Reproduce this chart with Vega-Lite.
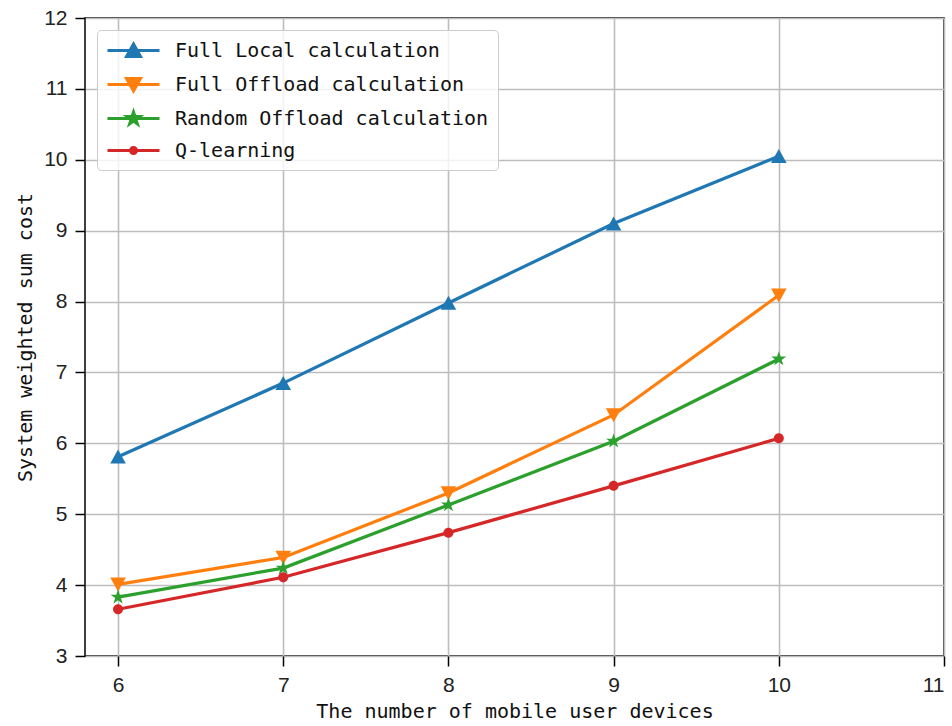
{
  "$schema": "https://vega.github.io/schema/vega-lite/v6.json",
  "autosize": "none",
  "width": 859,
  "height": 638,
  "padding": {"left": 85, "top": 18, "right": 8, "bottom": 70},
  "background": "white",
  "config": {
    "view": {"stroke": "black", "strokeWidth": 1.5},
    "axis": {
      "grid": true,
      "gridColor": "#bdbdbd",
      "gridWidth": 1.6,
      "domain": false,
      "tickColor": "black",
      "tickWidth": 1.5,
      "tickSize": 10,
      "labelFont": "Liberation Sans",
      "labelFontSize": 21,
      "labelColor": "#222222",
      "labelPadding": 8,
      "titleFont": "DejaVu Sans Mono",
      "titleFontSize": 20,
      "titleFontWeight": "normal",
      "titleColor": "#111111"
    }
  },
  "data": {
    "values": [
      {"n": 6, "cost": 5.81, "series": "Full Local calculation"},
      {"n": 7, "cost": 6.85, "series": "Full Local calculation"},
      {"n": 8, "cost": 7.98, "series": "Full Local calculation"},
      {"n": 9, "cost": 9.10, "series": "Full Local calculation"},
      {"n": 10, "cost": 10.05, "series": "Full Local calculation"},
      {"n": 6, "cost": 4.01, "series": "Full Offload calculation"},
      {"n": 7, "cost": 4.39, "series": "Full Offload calculation"},
      {"n": 8, "cost": 5.30, "series": "Full Offload calculation"},
      {"n": 9, "cost": 6.40, "series": "Full Offload calculation"},
      {"n": 10, "cost": 8.09, "series": "Full Offload calculation"},
      {"n": 6, "cost": 3.83, "series": "Random Offload calculation"},
      {"n": 7, "cost": 4.24, "series": "Random Offload calculation"},
      {"n": 8, "cost": 5.13, "series": "Random Offload calculation"},
      {"n": 9, "cost": 6.03, "series": "Random Offload calculation"},
      {"n": 10, "cost": 7.19, "series": "Random Offload calculation"},
      {"n": 6, "cost": 3.66, "series": "Q-learning"},
      {"n": 7, "cost": 4.11, "series": "Q-learning"},
      {"n": 8, "cost": 4.74, "series": "Q-learning"},
      {"n": 9, "cost": 5.40, "series": "Q-learning"},
      {"n": 10, "cost": 6.07, "series": "Q-learning"}
    ]
  },
  "encoding": {
    "x": {
      "field": "n", "type": "quantitative",
      "scale": {"domain": [5.8, 11], "nice": false, "zero": false},
      "axis": {"values": [6, 7, 8, 9, 10, 11], "format": "d", "title": "The number of mobile user devices", "titlePadding": 6}
    },
    "y": {
      "field": "cost", "type": "quantitative",
      "scale": {"domain": [3, 12], "nice": false, "zero": false},
      "axis": {"values": [3, 4, 5, 6, 7, 8, 9, 10, 11, 12], "title": "System weighted sum cost", "titlePadding": 8}
    },
    "color": {
      "field": "series", "type": "nominal",
      "scale": {
        "domain": ["Full Local calculation", "Full Offload calculation", "Random Offload calculation", "Q-learning"],
        "range": ["#1f77b4", "#ff7f0e", "#2ca02c", "#d62728"]
      },
      "legend": {
        "title": null,
        "orient": "none",
        "legendX": 12,
        "legendY": 12,
        "padding": 9,
        "strokeColor": "#cccccc",
        "fillColor": "rgba(255,255,255,0.8)",
        "cornerRadius": 4,
        "labelFont": "DejaVu Sans Mono",
        "labelFontSize": 20,
        "labelColor": "#111111",
        "labelLimit": 0,
        "labelOffset": 30,
        "symbolOffset": 16,
        "symbolSize": 400,
        "rowPadding": 9,
        "symbolStrokeWidth": 3,
        "encode": {
          "symbols": {
            "update": {
              "shape": {"signal": "datum.value == 'Full Local calculation' ? 'M-2.6,0H2.6M0,-0.65L0.7,0.6L-0.7,0.6Z' : datum.value == 'Full Offload calculation' ? 'M-2.6,0H2.6M0,0.65L0.7,-0.6L-0.7,-0.6Z' : datum.value == 'Random Offload calculation' ? 'M-2.6,0H2.6M0,-0.65L0.146,-0.2L0.618,-0.2L0.236,0.077L0.382,0.526L0,0.248L-0.382,0.526L-0.236,0.077L-0.618,-0.2L-0.146,-0.2Z' : 'M-2.6,0H2.6M0.3,0A0.3,0.3,0,1,1,-0.3,0A0.3,0.3,0,1,1,0.3,0Z'"},
              "fill": {"scale": "color", "field": "value"},
              "stroke": {"scale": "color", "field": "value"},
              "strokeWidth": {"value": 3},
              "opacity": {"value": 1},
              "fillOpacity": {"value": 1},
              "strokeOpacity": {"value": 1}
            }
          }
        }
      }
    }
  },
  "layer": [
    {
      "mark": {"type": "line", "strokeWidth": 3.2}
    },
    {
      "transform": [{"filter": "datum.series == 'Full Local calculation'"}],
      "mark": {"type": "point", "filled": true, "opacity": 1, "size": 400, "strokeWidth": 0, "shape": "M0,-0.72L0.78,0.68L-0.78,0.68Z"}
    },
    {
      "transform": [{"filter": "datum.series == 'Full Offload calculation'"}],
      "mark": {"type": "point", "filled": true, "opacity": 1, "size": 400, "strokeWidth": 0, "shape": "M0,0.72L0.78,-0.68L-0.78,-0.68Z"}
    },
    {
      "transform": [{"filter": "datum.series == 'Random Offload calculation'"}],
      "mark": {"type": "point", "filled": true, "opacity": 1, "size": 400, "strokeWidth": 0, "shape": "M0,-0.78L0.175,-0.241L0.742,-0.241L0.283,0.092L0.459,0.631L0,0.298L-0.459,0.631L-0.283,0.092L-0.742,-0.241L-0.175,-0.241Z"}
    },
    {
      "transform": [{"filter": "datum.series == 'Q-learning'"}],
      "mark": {"type": "point", "filled": true, "opacity": 1, "size": 400, "strokeWidth": 0, "shape": "M0.5,0A0.5,0.5,0,1,1,-0.5,0A0.5,0.5,0,1,1,0.5,0Z"}
    }
  ]
}
